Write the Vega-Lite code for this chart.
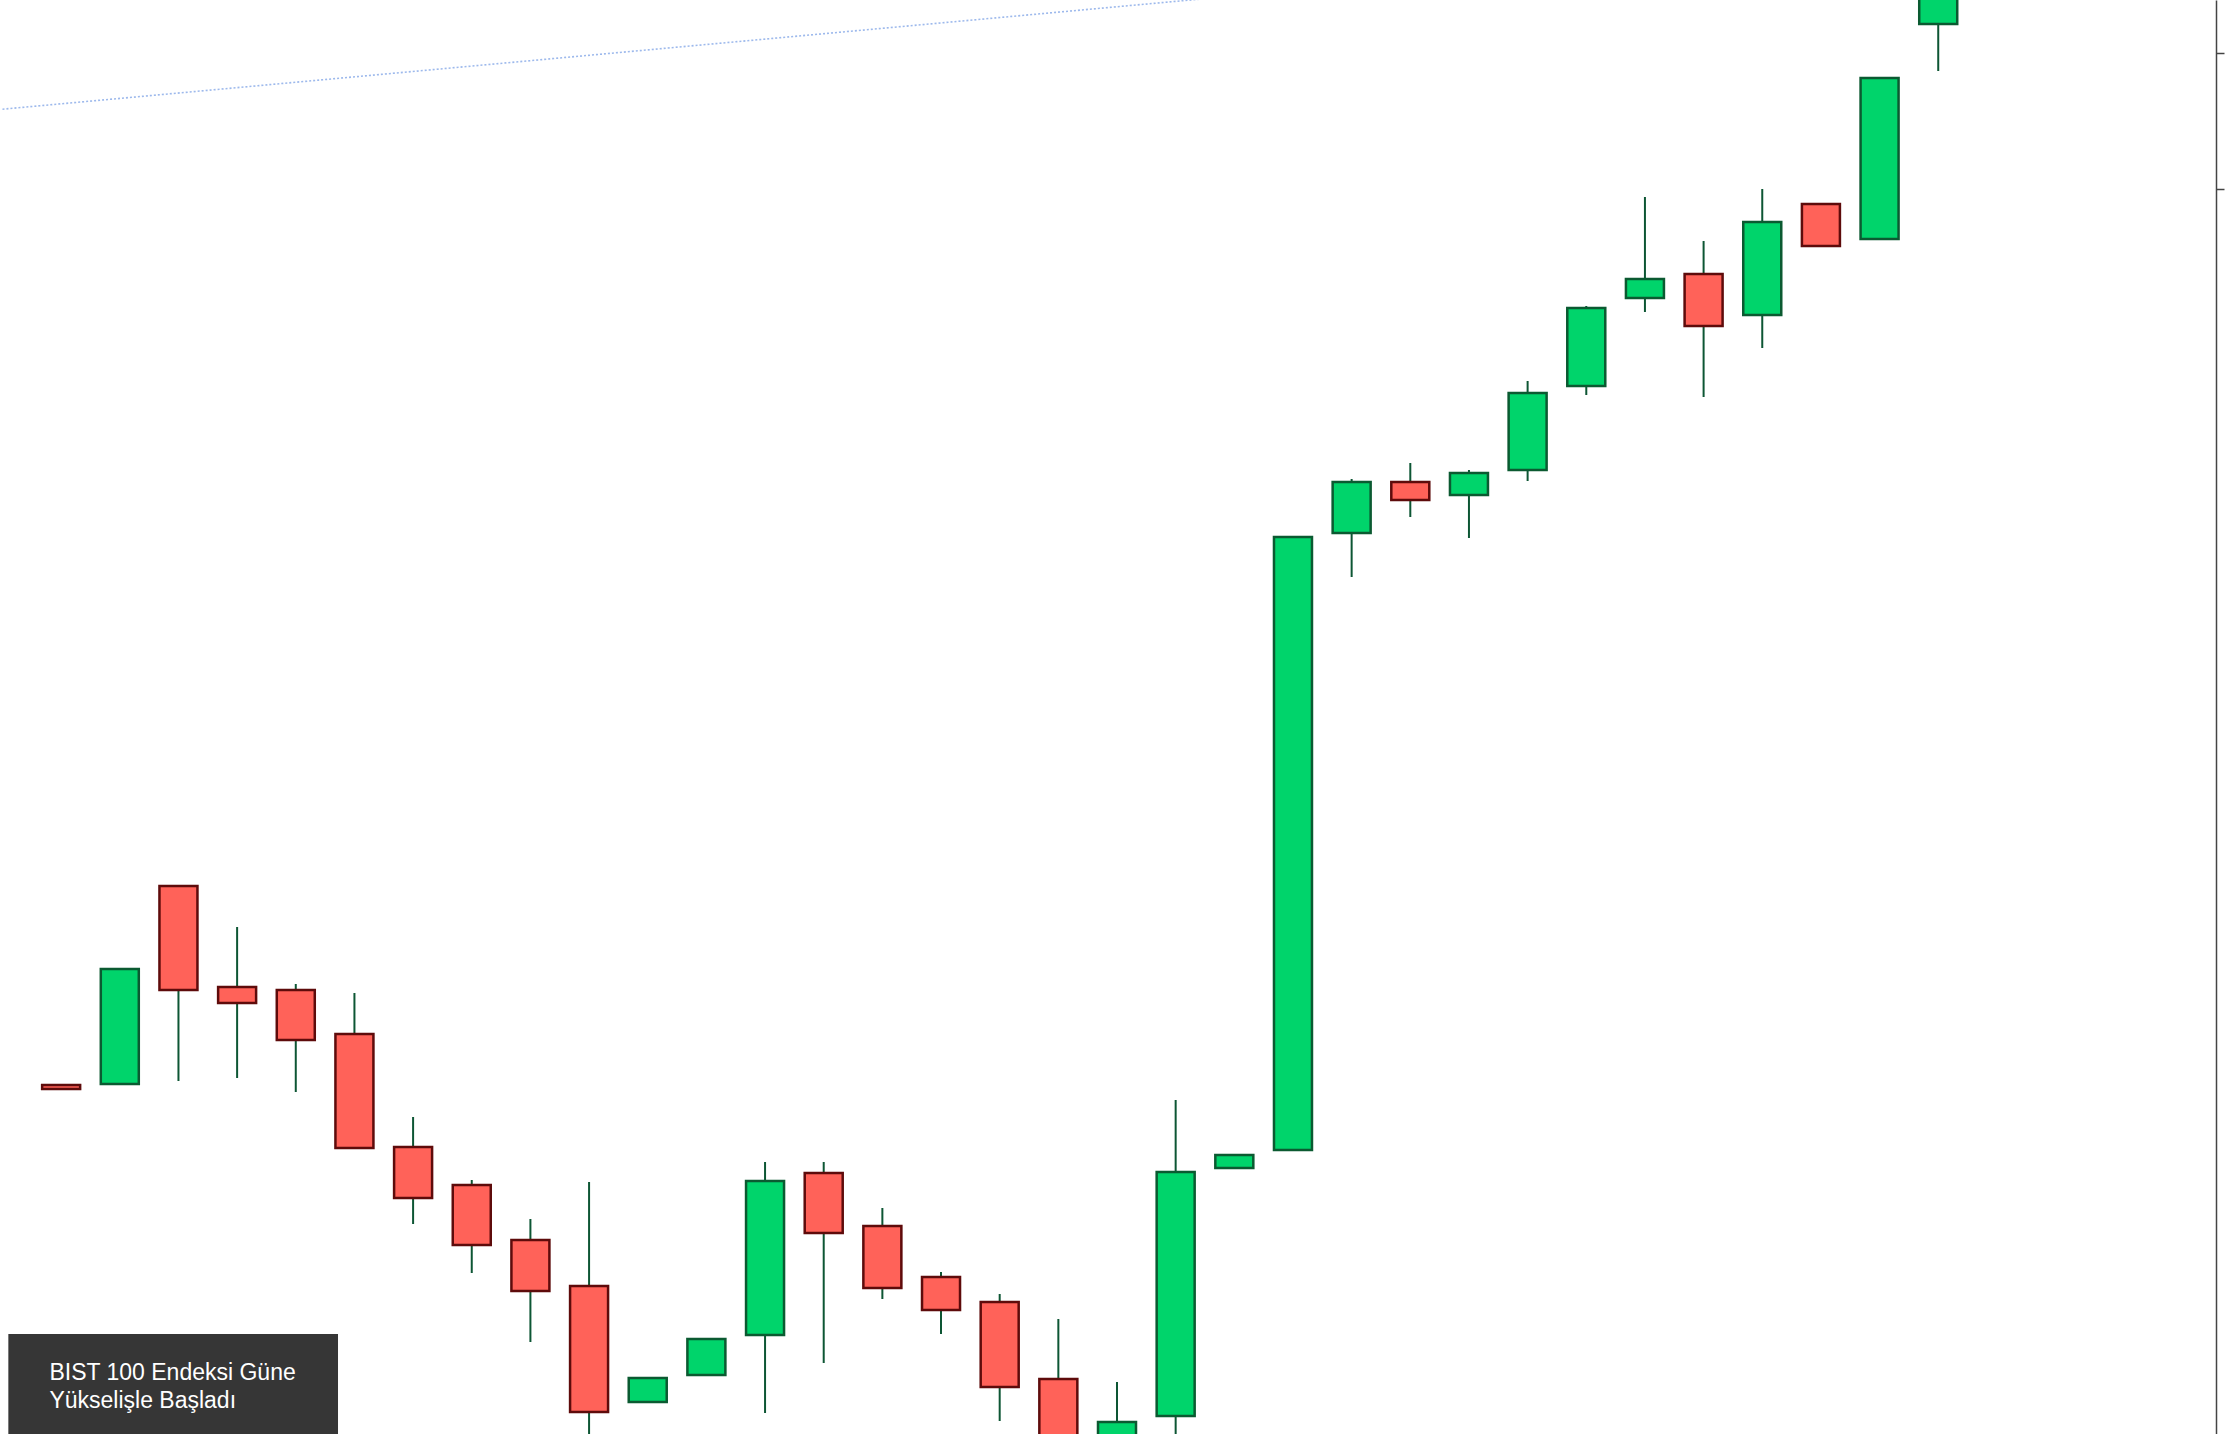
{
  "$schema": "https://vega.github.io/schema/vega-lite/v6.json",
  "width": 2216,
  "height": 1434,
  "autosize": {"type": "none"},
  "padding": {"left": 0, "top": 0, "right": 14, "bottom": 0},
  "background": "white",
  "config": {"view": {"stroke": null}},
  "datasets": {
    "candles": [
      {"t": 0, "open": 349, "high": 349, "low": 345, "close": 345},
      {"t": 1, "open": 350, "high": 465, "low": 350, "close": 465},
      {"t": 2, "open": 548, "high": 548, "low": 353, "close": 444},
      {"t": 3, "open": 447, "high": 507, "low": 356, "close": 431},
      {"t": 4, "open": 444, "high": 450, "low": 342, "close": 394},
      {"t": 5, "open": 400, "high": 441, "low": 286, "close": 286},
      {"t": 6, "open": 287, "high": 317, "low": 210, "close": 236},
      {"t": 7, "open": 249, "high": 254, "low": 161, "close": 189},
      {"t": 8, "open": 194, "high": 215, "low": 92, "close": 143},
      {"t": 9, "open": 148, "high": 252, "low": -20, "close": 22},
      {"t": 10, "open": 32, "high": 56, "low": 32, "close": 56},
      {"t": 11, "open": 59, "high": 95, "low": 59, "close": 95},
      {"t": 12, "open": 99, "high": 272, "low": 21, "close": 253},
      {"t": 13, "open": 261, "high": 272, "low": 71, "close": 201},
      {"t": 14, "open": 208, "high": 226, "low": 135, "close": 146},
      {"t": 15, "open": 157, "high": 162, "low": 100, "close": 124},
      {"t": 16, "open": 132, "high": 140, "low": 13, "close": 47},
      {"t": 17, "open": 55, "high": 115, "low": -20, "close": -10},
      {"t": 18, "open": -10, "high": 52, "low": -20, "close": 12},
      {"t": 19, "open": 18, "high": 334, "low": -20, "close": 262},
      {"t": 20, "open": 266, "high": 279, "low": 266, "close": 279},
      {"t": 21, "open": 284, "high": 897, "low": 284, "close": 897},
      {"t": 22, "open": 901, "high": 955, "low": 857, "close": 952},
      {"t": 23, "open": 952, "high": 971, "low": 917, "close": 934},
      {"t": 24, "open": 939, "high": 964, "low": 896, "close": 961},
      {"t": 25, "open": 964, "high": 1053, "low": 953, "close": 1041},
      {"t": 26, "open": 1048, "high": 1128, "low": 1039, "close": 1126},
      {"t": 27, "open": 1136, "high": 1237, "low": 1122, "close": 1155},
      {"t": 28, "open": 1160, "high": 1193, "low": 1037, "close": 1108},
      {"t": 29, "open": 1119, "high": 1245, "low": 1086, "close": 1212},
      {"t": 30, "open": 1230, "high": 1230, "low": 1188, "close": 1188},
      {"t": 31, "open": 1195, "high": 1356, "low": 1195, "close": 1356},
      {"t": 32, "open": 1410, "high": 1470, "low": 1363, "close": 1460}
    ],
    "trend": [
      {"t": -1, "v": 1324.8},
      {"t": 25, "v": 1465}
    ],
    "caption": [
      {"line1": "BIST 100 Endeksi Güne", "line2": "Yükselişle Başladı"}
    ]
  },
  "layer": [
    {
      "data": {"name": "trend"},
      "mark": {"type": "line", "stroke": "#9db9ec", "strokeWidth": 1.6, "strokeDash": [2, 2], "clip": true},
      "encoding": {
        "x": {"field": "t", "type": "quantitative", "scale": {"domain": [-0.957, 36.65], "nice": false, "zero": false}, "axis": null},
        "y": {"field": "v", "type": "quantitative", "scale": {"domain": [0, 1434], "nice": false, "zero": false},
              "axis": {"orient": "right", "values": [1245, 1381], "labels": false, "title": null, "grid": false, "ticks": true, "tickSize": 8, "tickWidth": 1.5, "tickColor": "#444444", "domainColor": "#444444", "domainWidth": 1.5}}
      }
    },
    {
      "data": {"name": "candles"},
      "mark": {"type": "rule", "stroke": "#0d5634", "strokeWidth": 2, "clip": true},
      "encoding": {
        "x": {"field": "t", "type": "quantitative"},
        "y": {"field": "low", "type": "quantitative",
              "axis": {"orient": "right", "values": [1245, 1381], "labels": false, "title": null, "grid": false, "ticks": true, "tickSize": 8, "tickWidth": 1.5, "tickColor": "#444444", "domainColor": "#444444", "domainWidth": 1.5}},
        "y2": {"field": "high"}
      }
    },
    {
      "data": {"name": "candles"},
      "mark": {"type": "bar", "size": 38, "strokeWidth": 2.5, "clip": true},
      "encoding": {
        "x": {"field": "t", "type": "quantitative"},
        "y": {"field": "open", "type": "quantitative",
              "axis": {"orient": "right", "values": [1245, 1381], "labels": false, "title": null, "grid": false, "ticks": true, "tickSize": 8, "tickWidth": 1.5, "tickColor": "#444444", "domainColor": "#444444", "domainWidth": 1.5}},
        "y2": {"field": "close"},
        "fill": {"condition": {"test": "datum.close >= datum.open", "value": "#00d46b"}, "value": "#ff6259"},
        "stroke": {"condition": {"test": "datum.close >= datum.open", "value": "#0b5a31"}, "value": "#5e0b0b"}
      }
    },
    {
      "data": {"name": "caption"},
      "mark": {"type": "rect", "fill": "#363636"},
      "encoding": {
        "x": {"datum": -0.9, "type": "quantitative"},
        "x2": {"datum": 4.72},
        "y": {"datum": 0, "type": "quantitative"},
        "y2": {"datum": 100}
      }
    },
    {
      "data": {"name": "caption"},
      "mark": {"type": "text", "font": "Liberation Sans", "fontSize": 23, "color": "#ffffff", "align": "left", "baseline": "alphabetic", "lineHeight": 28},
      "encoding": {
        "x": {"datum": -0.2, "type": "quantitative"},
        "y": {"datum": 54, "type": "quantitative"},
        "text": {"value": ["BIST 100 Endeksi Güne", "Yükselişle Başladı"]}
      }
    }
  ]
}
